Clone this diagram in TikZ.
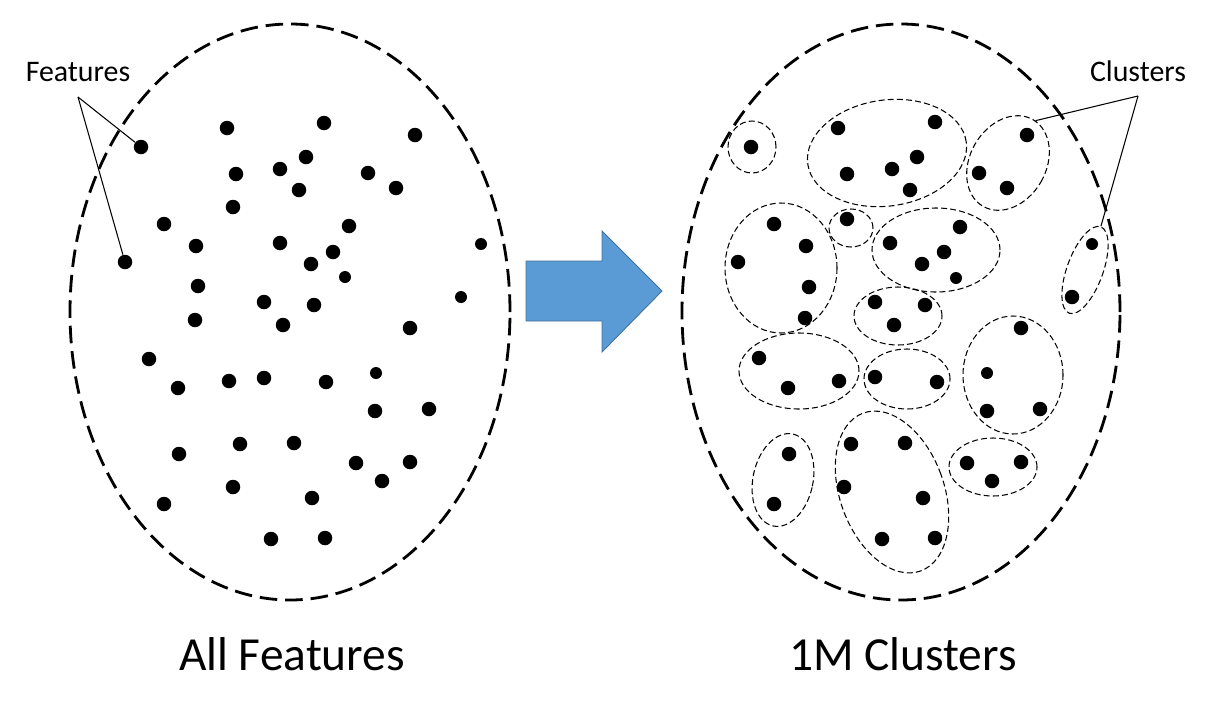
\documentclass[tikz,border=0pt]{standalone}
\usepackage{fontspec}
\setmainfont{Carlito}
\usetikzlibrary{shapes.geometric}
\definecolor{arrowblue}{HTML}{5B9BD5}
\definecolor{arrowedge}{HTML}{41719C}
\tikzset{
  dot/.style={circle, fill=black, inner sep=0pt, minimum size=2.9mm},
  smalldot/.style={dot, minimum size=2.4mm},
  bigset/.style={ellipse, draw, line width=1.6pt, dash pattern=on 10pt off 4.5pt, inner sep=0pt},
  cluster/.style={ellipse, draw, line width=0.6pt, dash pattern=on 3.4pt off 1.8pt, inner sep=0pt},
  leader/.style={line width=0.6pt},
  small label/.style={anchor=base, font=\fontsize{17}{20}\selectfont},
  big label/.style={anchor=base, font=\fontsize{27}{32}\selectfont}
}

\begin{document}
\begin{tikzpicture}[x=0.2mm, y=-0.2mm]
        \useasboundingbox (0,0) rectangle (1212,702);

        % The two sets
        \node[bigset, minimum width=88mm, minimum height=115.2mm] (allset) at (290,312) {};
        \node[bigset, minimum width=87.6mm, minimum height=115.2mm] (clusset) at (901,312) {};

        % Features on the left
        \foreach \x/\y [count=\i] in {141/147, 227/128, 324/123, 415/135, 306/157, 280/169, 236/174,
            299/190, 368/173, 396/188, 233/207, 164/224, 349/226, 196/246, 280/243, 333/252, 125/262,
            311/264, 198/286, 264/302, 314/305, 195/320, 283/325, 410/328, 149/359, 178/388, 229/381,
            264/378, 326/382, 375/411, 429/409, 179/454, 240/444, 294/443, 356/463, 410/462, 382/481,
            233/487, 312/498, 164/504, 271/539, 325/538}
            \node[dot] (l\i) at (\x,\y) {};
        \foreach \x/\y [count=\i] in {481/244, 345/277, 461/297, 376/373}
            \node[smalldot] (ls\i) at (\x,\y) {};

        % Arrow
        \draw[arrowedge, fill=arrowblue, line width=0.5pt] (526,261) -- (602,261) -- (602,231)
            -- (662,291) -- (602,352) -- (602,321) -- (526,321) -- cycle;

        % Clusters on the right
        \node[cluster, minimum width=9.6mm, minimum height=10.4mm] (cA) at (752,147) {};
        \node[cluster, minimum width=32mm, minimum height=21.2mm, rotate=8] (cB) at (887,153) {};
        \node[cluster, minimum width=15.2mm, minimum height=20mm, rotate=-30] (cC) at (1008,163) {};
        \node[cluster, minimum width=8.8mm, minimum height=7.6mm] (cD) at (851,228) {};
        \node[cluster, minimum width=22.4mm, minimum height=26mm] (cE) at (781,268) {};
        \node[cluster, minimum width=25.6mm, minimum height=16.8mm] (cF) at (936,250) {};
        \node[cluster, minimum width=7.2mm, minimum height=18.4mm, rotate=-20] (cG) at (1085,270) {};
        \node[cluster, minimum width=17.6mm, minimum height=11.6mm] (cH) at (898,316) {};
        \node[cluster, minimum width=24mm, minimum height=15.2mm] (cI) at (799,371) {};
        \node[cluster, minimum width=17.2mm, minimum height=12mm] (cJ) at (907,379) {};
        \node[cluster, minimum width=20mm, minimum height=23.6mm] (cK) at (1013,375) {};
        \node[cluster, minimum width=12mm, minimum height=18.8mm, rotate=-12] (cL) at (783,480) {};
        \node[cluster, minimum width=20.8mm, minimum height=33.6mm, rotate=20] (cM) at (892,492) {};
        \node[cluster, minimum width=17.6mm, minimum height=11.6mm] (cN) at (993,467) {};

        \foreach \x/\y [count=\i] in {751/147, 838/128, 935/122, 847/174, 892/169, 917/157, 910/190,
            1027/135, 979/173, 1007/188, 847/219, 774/224, 806/246, 738/262, 809/287, 805/318,
            960/227, 890/243, 944/252, 922/264, 1072/297, 875/302, 925/305, 894/325, 759/358,
            788/388, 839/381, 875/377, 937/382, 1021/328, 987/411, 1040/409, 789/454, 774/504,
            851/444, 905/443, 844/487, 923/498, 882/539, 935/538, 967/463, 1021/462, 992/481}
            \node[dot] (r\i) at (\x,\y) {};
        \foreach \x/\y [count=\i] in {956/278, 1092/244, 987/373}
            \node[smalldot] (rs\i) at (\x,\y) {};

        % Labels and leaders
        \node[small label] (featlabel) at (78,81) {Features};
        \node[small label] (cluslabel) at (1138,81) {Clusters};
        \coordinate (featapex) at (78,97);
        \coordinate (clusapex) at (1138,96);
        \draw[leader] (featapex) -- (l1);
        \draw[leader] (featapex) -- (l17);
        \draw[leader] (clusapex) -- (cC.87);
        \draw[leader] (clusapex) -- (cG.90);

        \node[big label] (alllabel) at (292,670) {All Features};
        \node[big label] (onemlabel) at (903,670) {1M Clusters};
    \end{tikzpicture}
\end{document}
